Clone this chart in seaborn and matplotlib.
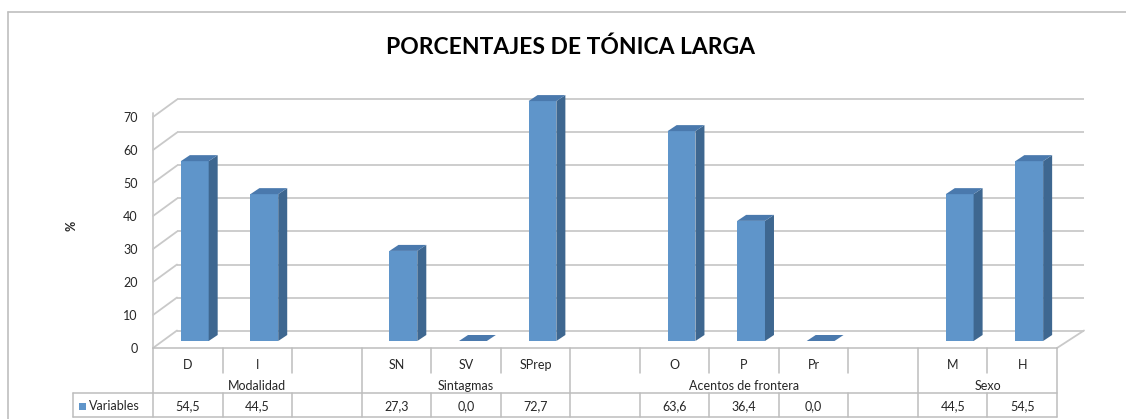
import numpy as np
import pandas as pd
import matplotlib
matplotlib.use("Agg")
import matplotlib.pyplot as plt
import matplotlib.transforms as mtransforms
from matplotlib.patches import Polygon, Rectangle
from matplotlib.lines import Line2D
import seaborn as sns

# ---------------- data ----------------
slots = ["D", "I", "_b1", "SN", "SV", "SPrep", "_b2", "O", "P", "Pr", "_b3", "M", "H"]
slot_labels = ["D", "I", "", "SN", "SV", "SPrep", "", "O", "P", "Pr", "", "M", "H"]
values = [54.5, 44.5, np.nan, 27.3, 0.0, 72.7, np.nan, 63.6, 36.4, 0.0, np.nan, 44.5, 54.5]
group_names = ["Modalidad", "Sintagmas", "Acentos de frontera", "Sexo"]
group_sizes = [3, 3, 5, 2]
series_name = "Variables"
title = "PORCENTAJES DE TÓNICA LARGA"
y_label = "%"
y_ticks = [0, 10, 20, 30, 40, 50, 60, 70]

# ---------------- style ----------------
sns.set_theme(style="white")
plt.rcParams["font.family"] = ["Lato", "DejaVu Sans"]
FRONT = "#5F95CA"
SIDE = "#3E6790"
TOP = "#4A79AD"
GRID = "#C9C9C9"
LINE = "#BDBDBD"
TXT = "#262626"

W, H = 1126, 419
fig = plt.figure(figsize=(W / 100, H / 100), dpi=100)
fig.patch.set_facecolor("white")

def fx(x):
    return x / W

def fy(y):
    return 1 - y / H

X0, X1, Y0, Y70 = 153, 1057, 348, 117
ax = fig.add_axes([fx(X0), fy(Y0), (X1 - X0) / W, (Y0 - Y70) / H])
ax.set_xlim(-0.5, len(slots) - 0.5)
ax.set_ylim(0, 70)
ax.patch.set_alpha(0)
sx = len(slots) / (X1 - X0)     # data units per pixel (x)
sy = 70 / (Y0 - Y70)            # data units per pixel (y)

# ---------------- 3D walls / gridlines ----------------
bdx_l, bdx_r, bdy = 24 * sx, 27 * sx, 17.5 * sy
xl, xr = -0.5, len(slots) - 0.5
for v in y_ticks:
    ax.plot([xl + bdx_l, xr + bdx_r], [v + bdy, v + bdy], color=GRID, lw=1.3,
            zorder=1, clip_on=False, solid_capstyle="butt")
    ax.plot([xl, xl + bdx_l], [v, v + bdy], color=GRID, lw=1.3, zorder=1, clip_on=False)
# floor right edge
ax.plot([xr, xr + bdx_r], [0, bdy], color=GRID, lw=1.3, zorder=1, clip_on=False)
# front vertical axis
ax.plot([xl, xl], [0, 70 + 4 * sy], color=GRID, lw=1.3, zorder=1, clip_on=False)

# ---------------- bars ----------------
df = pd.DataFrame({"slot": slots, "value": values}).dropna()
sns.barplot(data=df, x="slot", y="value", order=slots, width=0.4, color=FRONT,
            saturation=1, ax=ax, zorder=3)

odx, ody = 7 * sx, 7 * sy     # bar placement inside depth
ddx, ddy = 9 * sx, 6 * sy     # bar depth
for p in ax.patches:
    x0 = p.get_x() + odx
    w = p.get_width()
    h = p.get_height()
    p.set_x(x0)
    p.set_y(ody)
    p.set_facecolor(FRONT)
    p.set_edgecolor("none")
    p.set_clip_on(False)
    x1 = x0 + w
    yb, yt = ody, ody + h
    side = Polygon([(x1, yb), (x1 + ddx, yb + ddy), (x1 + ddx, yt + ddy), (x1, yt)],
                   closed=True, facecolor=SIDE, edgecolor="none", zorder=3, clip_on=False)
    top = Polygon([(x0, yt), (x0 + ddx, yt + ddy), (x1 + ddx, yt + ddy), (x1, yt)],
                  closed=True, facecolor=TOP, edgecolor="none", zorder=3, clip_on=False)
    ax.add_patch(side)
    ax.add_patch(top)

ax.set_xlabel("")
ax.set_ylabel("")
ax.set_xticks([])
ax.set_yticks(y_ticks)
ax.set_yticklabels([str(t) for t in y_ticks], fontsize=9, color=TXT)
ax.tick_params(axis="y", length=0, pad=11)
for s in ax.spines.values():
    s.set_visible(False)

# ---------------- data table ----------------
bt = mtransforms.blended_transform_factory(ax.transData, fig.transFigure)
T_TOP, T_MID, T_BOT = 348, 393, 417
x_leg = xl - (X0 - 73) * sx

def hline(xa, xb, ypx):
    ax.add_line(Line2D([xa, xb], [fy(ypx), fy(ypx)], transform=bt, color=LINE,
                       lw=1.1, clip_on=False))

def vline(xv, ya, yb):
    ax.add_line(Line2D([xv, xv], [fy(ya), fy(yb)], transform=bt, color=LINE,
                       lw=1.1, clip_on=False))

hline(xl, xr, T_TOP)
hline(x_leg, xr, T_MID)
hline(x_leg, xr, T_BOT)
vline(x_leg, T_MID, T_BOT)

group_edges = list(np.cumsum([0] + group_sizes) - 0.5)
for b in range(len(slots) + 1):
    xv = b - 0.5
    if xv in group_edges:
        vline(xv, T_TOP, T_BOT)
    else:
        vline(xv, T_TOP, 373)
        vline(xv, T_MID, T_BOT)

for i, lab in enumerate(slot_labels):
    ax.text(i, fy(365), lab, transform=bt, ha="center", va="center", fontsize=9, color=TXT)
    v = values[i]
    if not np.isnan(v):
        ax.text(i, fy(406), f"{v:.1f}".replace(".", ","), transform=bt,
                ha="center", va="center", fontsize=9, color=TXT)

start = 0
for name, n in zip(group_names, group_sizes):
    ax.text(start + (n - 1) / 2, fy(386), name, transform=bt, ha="center",
            va="center", fontsize=9, color=TXT)
    start += n

fig.add_artist(Rectangle((fx(79), fy(410)), 7 / W, 7 / H, transform=fig.transFigure,
                         facecolor=FRONT, edgecolor="none"))
fig.text(fx(89), fy(406), series_name, ha="left", va="center", fontsize=9, color=TXT)

# ---------------- title, axis label, border ----------------
fig.text(fx(571), fy(47), title, ha="center", va="center", fontsize=16.5,
         fontweight="bold", color="black")
fig.text(fx(72), fy(226), y_label, ha="center", va="center", rotation=90,
         fontsize=9, fontweight="bold", color=TXT)

fig.add_artist(Line2D([fx(8), 1], [fy(12), fy(12)], transform=fig.transFigure,
                      color="#BFBFBF", lw=1.2))
fig.add_artist(Line2D([fx(8), fx(8)], [fy(12), 0], transform=fig.transFigure,
                      color="#BFBFBF", lw=1.2))

fig.savefig("out.png", dpi=100)
